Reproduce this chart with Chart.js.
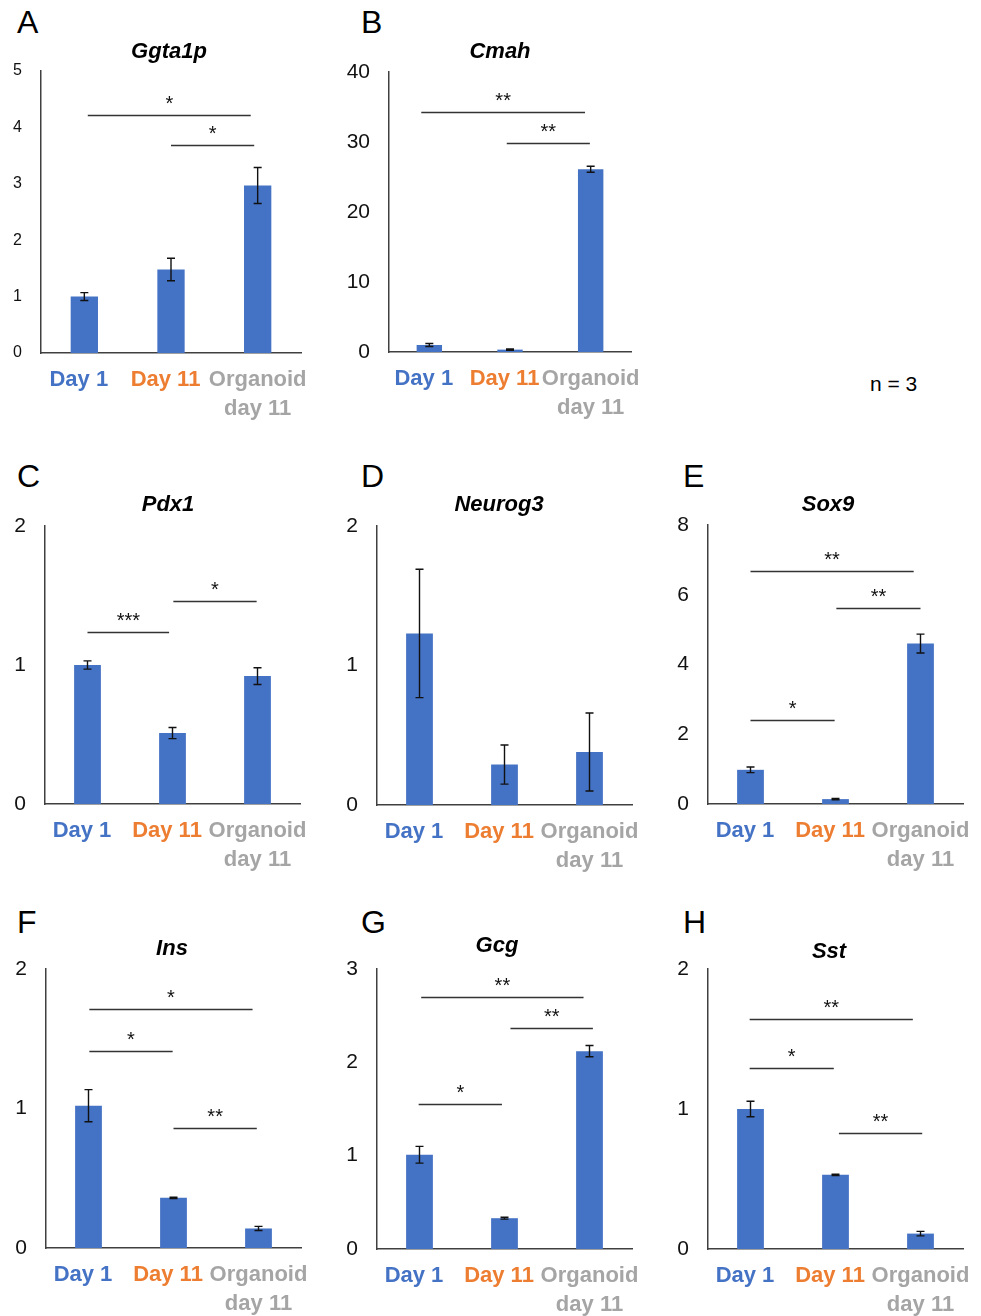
<!DOCTYPE html>
<html>
<head>
<meta charset="utf-8">
<script src="https://cdn.jsdelivr.net/npm/chart.js@4.4.1/dist/chart.umd.min.js"></script>
<style>
html, body { margin: 0; padding: 0; background: #fff; overflow: hidden; }
body { width: 981px; height: 1316px; position: relative; font-family: 'Liberation Sans', Arial, sans-serif; }
.box { position: absolute; }
.txt { position: absolute; line-height: 1; white-space: nowrap; color: #000; }
</style>
</head>
<body>
<script>
// Категории и цвета подписей
const categories = ['Day 1', 'Day 11', ['Organoid', 'day 11']];
const catColors = ['#4472C4', '#ED7D31', '#A5A5A5'];

// Средние значения и ошибки
const ggta1pMean = [1.0, 1.48, 2.97];
const ggta1pErr = [0.07, 0.2, 0.32];
const cmahMean = [1.0, 0.34, 26.1];
const cmahErr = [0.22, 0.08, 0.43];
const pdx1Mean = [1.0, 0.51, 0.92];
const pdx1Err = [0.03, 0.04, 0.06];
const neurog3Mean = [1.23, 0.29, 0.38];
const neurog3Err = [0.46, 0.14, 0.28];
const sox9Mean = [0.98, 0.14, 4.6];
const sox9Err = [0.08, 0.02, 0.27];
const insMean = [1.02, 0.36, 0.14];
const insErr = [0.115, 0.005, 0.015];
const gcgMean = [1.01, 0.33, 2.12];
const gcgErr = [0.09, 0.01, 0.06];
const sstMean = [1.0, 0.53, 0.11];
const sstErr = [0.055, 0.005, 0.016];

// Линии значимости: [от, до, уровень, метка]
const ggta1pSig = [[0.04, 1.92, 4.22, '*'], [1.0, 1.96, 3.68, '*']];
const cmahSig = [[-0.1, 1.93, 34.3, '**'], [0.96, 1.99, 29.9, '**']];
const pdx1Sig = [[0.0, 0.96, 1.24, '***'], [1.01, 1.99, 1.46, '*']];
const neurog3Sig = [];
const sox9Sig = [[0.0, 1.92, 6.68, '**'], [1.01, 2.0, 5.62, '**'], [0.0, 0.99, 2.42, '*']];
const insSig = [[0.01, 1.93, 1.71, '*'], [0.01, 0.99, 1.41, '*'], [1.0, 1.98, 0.86, '**']];
const gcgSig = [[0.02, 1.93, 2.70, '**'], [1.07, 2.04, 2.37, '**'], [-0.01, 0.97, 1.55, '*']];
const sstSig = [[-0.01, 1.91, 1.64, '**'], [-0.01, 0.98, 1.29, '*'], [1.04, 2.02, 0.83, '**']];

// Оси
const yMax = [5, 40, 2, 2, 8, 2, 3, 2];
const yStep = [1, 10, 1, 1, 2, 1, 1, 1];

const panels = [
    { letter: 'A', gene: 'Ggta1p', mean: ggta1pMean, err: ggta1pErr, sig: ggta1pSig },
    { letter: 'B', gene: 'Cmah', mean: cmahMean, err: cmahErr, sig: cmahSig },
    { letter: 'C', gene: 'Pdx1', mean: pdx1Mean, err: pdx1Err, sig: pdx1Sig },
    { letter: 'D', gene: 'Neurog3', mean: neurog3Mean, err: neurog3Err, sig: neurog3Sig },
    { letter: 'E', gene: 'Sox9', mean: sox9Mean, err: sox9Err, sig: sox9Sig },
    { letter: 'F', gene: 'Ins', mean: insMean, err: insErr, sig: insSig },
    { letter: 'G', gene: 'Gcg', mean: gcgMean, err: gcgErr, sig: gcgSig },
    { letter: 'H', gene: 'Sst', mean: sstMean, err: sstErr, sig: sstSig }
];

// Геометрия панелей (область графика, заголовок, буква)
const frames = [
    { l: 41, t: 71, r: 301, b: 353, tick: 16, tx: 169, ty: 59, lx: 17, ly: 33 },
    { l: 389, t: 72, r: 631, b: 352, tick: 21, tx: 500, ty: 59, lx: 361, ly: 33 },
    { l: 45, t: 526, r: 300, b: 804, tick: 21, tx: 168, ty: 512, lx: 17, ly: 487 },
    { l: 377, t: 526, r: 632, b: 805, tick: 21, tx: 499, ty: 512, lx: 361, ly: 487 },
    { l: 708, t: 525, r: 963, b: 804, tick: 21, tx: 828, ty: 512, lx: 683, ly: 487 },
    { l: 46, t: 969, r: 301, b: 1248, tick: 21, tx: 172, ty: 956, lx: 17, ly: 933 },
    { l: 377, t: 969, r: 632, b: 1249, tick: 21, tx: 497, ty: 953, lx: 361, ly: 933 },
    { l: 708, t: 969, r: 963, b: 1249, tick: 21, tx: 829, ty: 959, lx: 683, ly: 933 }
];

const FONT = "'Liberation Sans', Arial, sans-serif";

function addText(str, x, baseline, size, style, center) {
    const d = document.createElement('div');
    d.className = 'txt';
    d.textContent = str;
    d.style.font = style + ' ' + size + 'px ' + FONT;
    d.style.lineHeight = '1';
    d.style.left = x + 'px';
    d.style.top = (baseline - 0.8465 * size) + 'px';
    if (center) d.style.transform = 'translateX(-50%)';
    document.body.appendChild(d);
}

// Планки погрешностей
const errorBarPlugin = {
    id: 'errorBars',
    afterDatasetsDraw(chart, args, opts) {
        const ctx = chart.ctx;
        const y = chart.scales.y;
        const meta = chart.getDatasetMeta(0);
        const values = chart.data.datasets[0].data;
        ctx.save();
        ctx.strokeStyle = '#111';
        ctx.lineWidth = 1.4;
        meta.data.forEach((bar, i) => {
            const e = opts.errors[i];
            const top = y.getPixelForValue(values[i] + e);
            const bot = y.getPixelForValue(Math.max(values[i] - e, 0));
            ctx.beginPath();
            ctx.moveTo(bar.x, top); ctx.lineTo(bar.x, bot);
            ctx.moveTo(bar.x - 4, top); ctx.lineTo(bar.x + 4, top);
            ctx.moveTo(bar.x - 4, bot); ctx.lineTo(bar.x + 4, bot);
            ctx.stroke();
        });
        ctx.restore();
    }
};

// Линии значимости со звёздочками
const sigPlugin = {
    id: 'sigLines',
    afterDatasetsDraw(chart, args, opts) {
        const ctx = chart.ctx;
        const { x, y } = chart.scales;
        ctx.save();
        ctx.strokeStyle = '#333';
        ctx.lineWidth = 1.4;
        ctx.fillStyle = '#111';
        ctx.font = '20px ' + FONT;
        ctx.textAlign = 'center';
        ctx.textBaseline = 'alphabetic';
        opts.lines.forEach(([from, to, level, label]) => {
            const x1 = x.getPixelForValue(from);
            const x2 = x.getPixelForValue(to);
            const py = Math.round(y.getPixelForValue(level)) + 0.5;
            ctx.beginPath();
            ctx.moveTo(x1, py); ctx.lineTo(x2, py);
            ctx.stroke();
            ctx.fillText(label, (x1 + x2) / 2, py - 6);
        });
        ctx.restore();
    }
};

const PAD_L = 60, PAD_T = 20, PAD_R = 20, PAD_B = 75;

panels.forEach((p, k) => {
    const f = frames[k];
    const w = (f.r - f.l) + PAD_L + PAD_R;
    const h = (f.b - f.t) + PAD_T + PAD_B;
    const box = document.createElement('div');
    box.className = 'box';
    box.style.left = (f.l - PAD_L) + 'px';
    box.style.top = (f.t - PAD_T) + 'px';
    box.style.width = w + 'px';
    box.style.height = h + 'px';
    const canvas = document.createElement('canvas');
    canvas.width = w;
    canvas.height = h;
    box.appendChild(canvas);
    document.body.appendChild(box);

    new Chart(canvas, {
        type: 'bar',
        data: {
            labels: categories,
            datasets: [{
                data: p.mean,
                backgroundColor: '#4472C4',
                borderWidth: 0,
                barPercentage: 0.315,
                categoryPercentage: 1
            }]
        },
        options: {
            responsive: false,
            animation: false,
            layout: { padding: { left: 0, top: PAD_T, right: PAD_R, bottom: 0 } },
            plugins: {
                legend: { display: false },
                tooltip: { enabled: false },
                errorBars: { errors: p.err },
                sigLines: { lines: p.sig }
            },
            scales: {
                x: {
                    grid: { display: false, drawTicks: false },
                    border: { display: true, color: '#404040', width: 1.5 },
                    ticks: {
                        autoSkip: false,
                        maxRotation: 0,
                        padding: 13,
                        color: (c) => catColors[c.index],
                        font: { family: FONT, size: 22, weight: 'bold', lineHeight: 1.3 },
                        // подписи "Day" чуть смещены влево, как в оригинале
                        callback: (v, i) => i < 2 ? categories[i] + '\u2002' : categories[i]
                    },
                    afterFit: (s) => {
                        s.height = PAD_B;
                        s.paddingLeft = 0;
                        s.paddingRight = 0;
                    }
                },
                y: {
                    min: 0,
                    max: yMax[k],
                    grid: { display: false, drawTicks: false },
                    border: { display: true, color: '#404040', width: 1.5 },
                    ticks: {
                        stepSize: yStep[k],
                        padding: 19,
                        color: '#111',
                        font: { family: FONT, size: f.tick }
                    },
                    afterFit: (s) => {
                        s.width = PAD_L;
                        s.paddingTop = 0;
                        s.paddingBottom = 0;
                    }
                }
            }
        },
        plugins: [errorBarPlugin, sigPlugin]
    });

    addText(p.letter, f.lx, f.ly, 32, 'normal', false);
    addText(p.gene, f.tx, f.ty, 22, 'italic bold', true);
});

addText('n = 3', 870, 391, 21, 'normal', false);
</script>
</body>
</html>
